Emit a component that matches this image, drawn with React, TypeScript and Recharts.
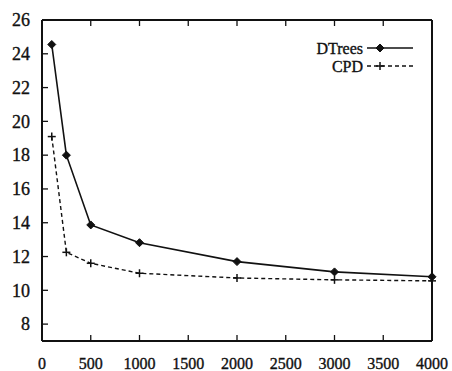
import React from 'react';
import { LineChart, Line, XAxis, YAxis } from 'recharts';

const sizes = [100, 250, 500, 1000, 2000, 3000, 4000];
const dtrees = [24.55, 18.0, 13.87, 12.82, 11.7, 11.09, 10.8];
const cpd = [19.1, 12.25, 11.6, 11.01, 10.73, 10.62, 10.56];
const xTicks = [0, 500, 1000, 1500, 2000, 2500, 3000, 3500, 4000];
const yTicks = [8, 10, 12, 14, 16, 18, 20, 22, 24, 26];
const seriesNames = ['DTrees', 'CPD'];

const data = sizes.map((s, i) => ({ size: s, dtrees: dtrees[i], cpd: cpd[i] }));

const INK = '#111';
const FONT = "'Times New Roman', 'Liberation Serif', 'DejaVu Serif', serif";
const TICK = 6;
const textStyle = { fontFamily: FONT, stroke: INK, strokeWidth: 0.35 };

const LeftTick = (props: any) => {
  const { x, y, payload } = props;
  const ax = x + 12;
  return (
    <g>
      <line x1={ax} y1={y} x2={ax + TICK} y2={y} stroke={INK} strokeWidth={1.3} />
      <text x={x} y={y} dy="0.35em" textAnchor="end" style={{ ...textStyle, fontSize: 18 }} fill={INK}>
        {payload.value}
      </text>
    </g>
  );
};

const RightTick = (props: any) => {
  const { x, y } = props;
  return <line x1={x} y1={y} x2={x - TICK} y2={y} stroke={INK} strokeWidth={1.3} />;
};

const BottomTick = (props: any) => {
  const { x, y, payload } = props;
  const ay = y - 14;
  return (
    <g>
      <line x1={x} y1={ay} x2={x} y2={ay - TICK} stroke={INK} strokeWidth={1.3} />
      <text x={x} y={y} dy="0.9em" textAnchor="middle" style={{ ...textStyle, fontSize: 16 }} fill={INK}>
        {payload.value}
      </text>
    </g>
  );
};

const TopTick = (props: any) => {
  const { x, y } = props;
  return <line x1={x} y1={y} x2={x} y2={y + TICK} stroke={INK} strokeWidth={1.3} />;
};

const Diamond = (props: any) => {
  const { cx, cy } = props;
  if (cx == null || cy == null) return null;
  const r = 4;
  return (
    <polygon
      points={`${cx},${cy - r} ${cx + r},${cy} ${cx},${cy + r} ${cx - r},${cy}`}
      fill={INK}
      stroke={INK}
      strokeWidth={1}
    />
  );
};

const Plus = (props: any) => {
  const { cx, cy } = props;
  if (cx == null || cy == null) return null;
  const r = 4;
  return (
    <g stroke={INK} strokeWidth={1.5}>
      <line x1={cx - r} y1={cy} x2={cx + r} y2={cy} />
      <line x1={cx} y1={cy - r} x2={cx} y2={cy + r} />
    </g>
  );
};

const LegendBox = () => (
  <svg width={150} height={44} style={{ position: 'absolute', left: 290, top: 35 }}>
    <text x={73} y={13} dy="0.35em" textAnchor="end" style={{ ...textStyle, fontSize: 16 }} fill={INK}>
      {seriesNames[0]}
    </text>
    <line x1={77} y1={13} x2={123} y2={13} stroke={INK} strokeWidth={1.6} />
    <Diamond cx={90} cy={13} />
    <text x={73} y={31} dy="0.35em" textAnchor="end" style={{ ...textStyle, fontSize: 16 }} fill={INK}>
      {seriesNames[1]}
    </text>
    <line x1={77} y1={31} x2={123} y2={31} stroke={INK} strokeWidth={1.4} strokeDasharray="4 3" />
    <Plus cx={90} cy={31} />
  </svg>
);

export default function App() {
  return (
    <div style={{ position: 'absolute', left: 0, top: 0, width: 452, height: 371, background: '#fff' }}>
      <LineChart width={452} height={371} data={data} margin={{ top: 19, right: 19, bottom: 0, left: 0 }}>
        <XAxis
          xAxisId="bottom"
          dataKey="size"
          type="number"
          domain={[0, 4000]}
          ticks={xTicks}
          orientation="bottom"
          height={30}
          tickLine={false}
          tickSize={0}
          tickMargin={14}
          axisLine={{ stroke: INK, strokeWidth: 2 }}
          tick={<BottomTick />}
          interval={0}
        />
        <XAxis
          xAxisId="top"
          dataKey="size"
          type="number"
          domain={[0, 4000]}
          ticks={xTicks}
          orientation="top"
          height={1}
          tickLine={false}
          tickSize={0}
          tickMargin={0}
          axisLine={{ stroke: INK, strokeWidth: 2 }}
          tick={<TopTick />}
          interval={0}
        />
        <YAxis
          yAxisId="left"
          type="number"
          domain={[7, 26]}
          ticks={yTicks}
          orientation="left"
          width={42}
          tickLine={false}
          tickSize={0}
          tickMargin={12}
          axisLine={{ stroke: INK, strokeWidth: 2 }}
          tick={<LeftTick />}
          interval={0}
        />
        <YAxis
          yAxisId="right"
          type="number"
          domain={[7, 26]}
          ticks={yTicks}
          orientation="right"
          width={1}
          tickLine={false}
          tickSize={0}
          tickMargin={0}
          axisLine={{ stroke: INK, strokeWidth: 2 }}
          tick={<RightTick />}
          interval={0}
        />
        <Line
          xAxisId="bottom"
          yAxisId="left"
          dataKey="dtrees"
          name={seriesNames[0]}
          stroke={INK}
          strokeWidth={1.6}
          dot={<Diamond />}
          activeDot={false}
          isAnimationActive={false}
        />
        <Line
          xAxisId="bottom"
          yAxisId="left"
          dataKey="cpd"
          name={seriesNames[1]}
          stroke={INK}
          strokeWidth={1.4}
          strokeDasharray="4 3"
          dot={<Plus />}
          activeDot={false}
          isAnimationActive={false}
        />
      </LineChart>
      <LegendBox />
    </div>
  );
}
